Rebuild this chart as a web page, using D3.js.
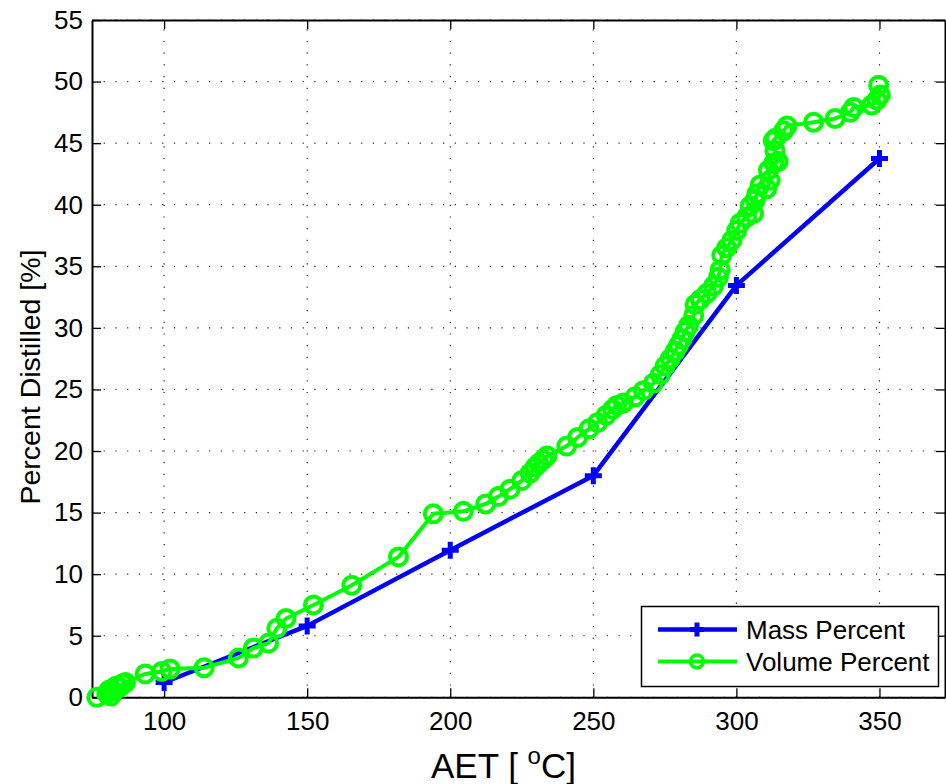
<!DOCTYPE html>
<html><head><meta charset="utf-8">
<script src="https://cdn.jsdelivr.net/npm/d3@7"></script>
<style>body{margin:0;background:#fff} text{font-family:"Liberation Sans",Arial,Helvetica,sans-serif;fill:#000}</style>
</head><body><svg id="c" width="946" height="784"></svg>
<script>
const xTicks=[100,150,200,250,300,350];
const yTicks=[0,5,10,15,20,25,30,35,40,45,50,55];
const massT=[100,150,200,250,300,350];
const massP=[1.2,5.8,11.95,18.0,33.45,43.75];
const volT=[76.5,80,80.8,81.5,82.3,83.2,84.5,85.5,86.5,93.4,99.2,102.1,114,126,131.2,136.5,139.4,142.6,152.2,165.6,181.9,194.1,204.6,212.4,216.8,220.9,225,227.9,229.7,231,232.5,233.8,240.7,244.5,248.5,251.5,254.5,256.8,258.2,260.5,264.6,267.5,271,273.4,275.1,276.9,278.6,279.8,281,282.1,283.3,285.1,285.6,287.4,289.7,292,293.7,294.3,294.9,296.6,298.4,300.1,301.3,303.6,306,304.8,306.6,307.2,308.3,310.6,311.8,311.2,313.1,314.6,313.5,312.9,313.7,316.5,317.7,327,334.5,339.8,341,347.3,349.1,350.3,349.7];
const volP=[0,0.3,0.6,0.1,0.5,0.9,0.8,1.1,1.2,1.9,2.1,2.3,2.4,3.2,4.0,4.4,5.6,6.4,7.5,9.1,11.4,14.9,15.1,15.7,16.3,16.9,17.6,18.2,18.7,19.0,19.3,19.6,20.4,21.1,21.8,22.3,22.9,23.4,23.7,23.9,24.4,24.9,25.5,26.2,26.9,27.5,28.1,28.6,29.1,29.7,30.2,31.0,31.9,32.3,32.8,33.4,34.1,34.7,35.9,36.5,37.1,37.9,38.5,39.0,39.3,39.9,40.4,40.9,41.6,41.3,42.0,42.8,43.4,43.5,44.4,45.2,45.4,46.0,46.4,46.7,47.0,47.5,47.9,48.1,48.5,48.9,49.7];
const seriesNames=["Mass Percent","Volume Percent"];
const colors=["#0000ff","#00ff00"];

const L=92,R=945,T=20,B=697.3;
const x=d3.scaleLinear().domain([74.8,372.9]).range([L,R]);
const y=d3.scaleLinear().domain([0,55]).range([B,T]);
const svg=d3.select("#c");

// grid
const grid=svg.append("g").attr("stroke","#222").attr("stroke-width",1.2).attr("stroke-dasharray","1.2,10.5");
grid.selectAll(".gx").data(xTicks).join("line").attr("x1",d=>x(d)).attr("x2",d=>x(d)).attr("y1",B).attr("y2",T);
grid.selectAll(".gy").data(yTicks).join("line").attr("y1",d=>y(d)).attr("y2",d=>y(d)).attr("x1",L).attr("x2",R);

// axes
const fs=26;
const ax=svg.append("g").attr("transform",`translate(0,${B})`).call(d3.axisBottom(x).tickValues(xTicks).tickSizeInner(-9).tickSizeOuter(0).tickPadding(14));
const axT=svg.append("g").attr("transform",`translate(0,${T})`).call(d3.axisTop(x).tickValues(xTicks).tickSizeInner(-9).tickSizeOuter(0).tickFormat(""));
const ay=svg.append("g").attr("transform",`translate(${L},0)`).call(d3.axisLeft(y).tickValues(yTicks).tickSizeInner(-9).tickSizeOuter(0).tickPadding(6));
const ayR=svg.append("g").attr("transform",`translate(${R},0)`).call(d3.axisRight(y).tickValues(yTicks).tickSizeInner(-9).tickSizeOuter(0).tickFormat(""));
[ax,axT,ay,ayR].forEach(g=>{g.select(".domain").attr("stroke","#000").attr("stroke-width",2);g.selectAll(".tick line").attr("stroke","#000").attr("stroke-width",1.3);g.selectAll("text").attr("font-size",fs).attr("font-family","Liberation Sans, Arial, sans-serif");});
ay.selectAll("text").attr("dx",-3);

// labels
svg.append("text").attr("x",431).attr("y",778).attr("font-size",35).attr("xml:space","preserve")
  .html('AET [ <tspan dy="-14" font-size="24">o</tspan><tspan dy="14">C]</tspan>');
svg.append("text").attr("transform","translate(40,377) rotate(-90)").attr("text-anchor","middle").attr("font-size",28.5).text("Percent Distilled [%]");

// data
const massData=massT.map((t,i)=>[t,massP[i]]);
const volData=volT.map((t,i)=>[t,volP[i]]);
const line=d3.line().x(d=>x(d[0])).y(d=>y(d[1]));
svg.append("path").datum(massData).attr("d",line).attr("fill","none").attr("stroke",colors[0]).attr("stroke-width",4.5).attr("stroke-linejoin","round");
svg.append("g").selectAll("path").data(massData).join("path")
  .attr("d",d=>{const cx=x(d[0]),cy=y(d[1]),s=8.5;return `M${cx-s},${cy}H${cx+s}M${cx},${cy-s}V${cy+s}`;})
  .attr("stroke",colors[0]).attr("stroke-width",5).attr("fill","none");
svg.append("path").datum(volData).attr("d",line).attr("fill","none").attr("stroke",colors[1]).attr("stroke-width",4).attr("stroke-linejoin","round");
svg.append("g").selectAll("circle").data(volData).join("circle")
  .attr("cx",d=>x(d[0])).attr("cy",d=>y(d[1])).attr("r",8.5).attr("fill","none").attr("stroke",colors[1]).attr("stroke-width",4);

// legend
const lg=svg.append("g");
lg.append("rect").attr("x",641.5).attr("y",606.5).attr("width",297).attr("height",80).attr("fill","#fff").attr("stroke","#000").attr("stroke-width",1.5);
const rows=[629.5,661.5];
seriesNames.forEach((n,i)=>{
  lg.append("line").attr("x1",658).attr("x2",737).attr("y1",rows[i]).attr("y2",rows[i]).attr("stroke",colors[i]).attr("stroke-width",i?4:4.5);
  if(i===0){lg.append("path").attr("d",`M${697-7},${rows[i]}H${697+7}M${697},${rows[i]-7}V${rows[i]+7}`).attr("stroke",colors[0]).attr("stroke-width",5);}
  else{lg.append("circle").attr("cx",697).attr("cy",rows[i]).attr("r",6.5).attr("fill","none").attr("stroke",colors[1]).attr("stroke-width",3.5);}
  lg.append("text").attr("x",746).attr("y",rows[i]+9).attr("font-size",26).text(n);
});
</script></body></html>
